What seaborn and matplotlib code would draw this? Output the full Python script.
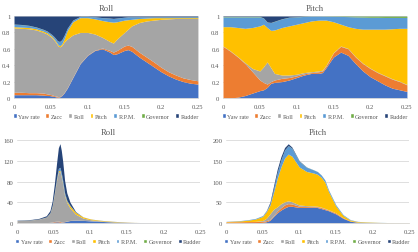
import numpy as np
import seaborn as sns
import matplotlib.pyplot as plt
from matplotlib.patches import Patch
from matplotlib.ticker import FuncFormatter

series = ["Yaw rate", "Zacc", "Roll", "Pitch", "R.P.M.", "Governor", "Rudder"]
colors = ["#4472C4", "#ED7D31", "#A5A5A5", "#FFC000", "#5B9BD5", "#70AD47", "#264478"]

# Roll case: frequency, total spectrum and share (%) of each contribution
roll_freq = [0, 0.01, 0.02, 0.03, 0.04, 0.045, 0.048, 0.051, 0.054, 0.0565, 0.0587, 0.0605,
             0.0625, 0.065, 0.068, 0.0724, 0.08, 0.09, 0.1, 0.11, 0.12, 0.13, 0.135, 0.14,
             0.15, 0.155, 0.16, 0.17, 0.18, 0.19, 0.2, 0.21, 0.22, 0.23, 0.24, 0.25]
roll_total = [5.5, 6, 7, 9, 14, 24, 42, 75, 115, 145, 153, 140, 118, 82, 58, 40, 22, 12, 8, 6,
              4.5, 3.5, 3, 2.6, 1.8, 1.5, 1.2, 0.9, 0.7, 0.55, 0.45, 0.4, 0.35, 0.3, 0.28, 0.25]
roll_yaw = [4, 4, 4, 4, 3.5, 3, 3, 2.5, 2, 1.5, 1, 1, 1.5, 3, 6, 12, 25, 42, 52, 58, 60, 56, 53,
            54, 58, 59, 57, 50, 44, 38, 32, 27, 23, 20, 18, 17]
roll_zacc = [3, 3, 2.5, 2.5, 2.5, 2, 1.5, 1.5, 1, 1, 1, 0.5, 0.5, 0.5, 0.5, 0.5, 0.5, 0.5, 0.5,
             0.5, 1, 2, 3, 4, 5.5, 5.5, 6, 6, 6, 6, 5.5, 5, 5, 4.5, 4.5, 4]
roll_roll = [78.5, 78, 78, 76.5, 74, 73, 71.5, 70, 68, 65.5, 63, 61.5, 60.5, 60.5, 61.5, 59.5,
             51.5, 37.5, 27.5, 19.5, 13, 11, 11, 14, 16.5, 19.5, 25, 36, 44, 51, 58.5, 64.5, 69,
             72.5, 74.5, 76]
roll_pitch = [1.5, 1.5, 1.5, 1.5, 1.5, 1.5, 1.5, 1.5, 1.5, 1.5, 1.5, 1.5, 1.5, 2, 4, 10, 16, 18,
              18, 18.5, 20.5, 24, 25.5, 21, 15, 11.5, 8, 5, 3.5, 3, 2, 1.5, 1, 1, 1, 1]
roll_rpm = [3, 3, 2.5, 2, 2, 2, 2, 2, 2.5, 3, 3.5, 4.5, 5, 5, 4, 3, 2, 1.5, 1.5, 2.5, 3.5, 4.5,
            4.5, 4.5, 3.5, 3.5, 3, 2, 1.5, 1, 1, 1, 1, 1, 1, 1]
roll_gov = [0.2, 0.2, 0.2, 0.2, 0.2, 0.2, 0.2, 0.2, 0.2, 0.2, 0.2, 0.2, 0.2, 0.2, 0.2, 0.2, 0.2,
            0.1, 0.1, 0.1, 0.1, 0.1, 0.1, 0.1, 0.1, 0.1, 0.1, 0.1, 0.1, 0.1, 0.1, 0.1, 0.1, 0.1,
            0.1, 0.1]
roll_rudder = [9.8, 10.3, 11.3, 13.3, 16.3, 18.3, 20.3, 22.3, 24.8, 27.3, 29.8, 30.8, 30.8, 28.8,
               23.8, 14.8, 4.8, 0.4, 0.4, 0.9, 1.9, 2.4, 2.9, 2.4, 1.4, 0.9, 0.9, 0.9, 0.9, 0.9,
               0.9, 0.9, 0.9, 0.9, 0.9, 0.9]

# Pitch case
pitch_freq = [0, 0.01, 0.02, 0.03, 0.04, 0.05, 0.055, 0.06, 0.065, 0.07, 0.075, 0.08, 0.085,
              0.09, 0.1, 0.11, 0.12, 0.125, 0.13, 0.135, 0.14, 0.15, 0.16, 0.17, 0.18, 0.19,
              0.2, 0.21, 0.22, 0.23, 0.24, 0.25]
pitch_total = [4, 5, 6, 8, 11, 18, 30, 50, 90, 130, 160, 182, 191, 183, 150, 135, 128, 124, 116,
               104, 80, 44, 20, 8, 4, 2.8, 2.2, 1.6, 1.2, 0.9, 0.7, 0.5]
pitch_yaw = [0, 0, 1, 3, 6, 9, 10, 13, 18, 19, 19.5, 20, 21, 22, 25, 28, 30, 30, 30, 31, 37, 50,
             56, 52, 42, 33, 26, 21, 16, 12, 10, 8]
pitch_zacc = [63, 57, 49, 39, 26, 13, 9, 4, 2, 3, 3.5, 4, 3.5, 3, 2, 1.5, 1, 1.5, 2, 2, 2, 5, 7,
              8, 8, 9, 10, 10, 11, 11, 10, 8]
pitch_roll = [0.5, 0.5, 0.5, 1, 4, 11, 19, 27, 17, 8, 6, 4, 3.5, 3, 2, 1.5, 1, 1, 1, 1, 1, 0.5,
              0.5, 0.5, 0.5, 0.5, 0.5, 0.5, 0.5, 0.5, 0.5, 0.5]
pitch_pitch = [23.5, 29.5, 35.5, 42, 50, 55, 52, 42, 45.5, 53, 55.5, 58, 59, 60, 61, 61, 62, 62,
               62, 61, 55, 37.5, 26.5, 26.5, 34.5, 41.5, 47.5, 52.5, 56.5, 61, 64.5, 68.5]
pitch_rpm = [12, 12, 13, 14, 13, 11, 7.5, 6.5, 9.5, 10.5, 10.5, 10.5, 10.5, 10.5, 9, 7.5, 5.8,
             5.3, 4.8, 4.8, 4.7, 6.6, 9.5, 12.3, 14, 14.8, 14.5, 14.5, 14.3, 13.8, 13.3, 13.3]
pitch_gov = [0.5, 0.5, 0.5, 0.5, 0.5, 0.5, 0.2, 0.2, 0.2, 0.2, 0.2, 0.2, 0.2, 0.2, 0.2, 0.2, 0.1,
             0.1, 0.1, 0.1, 0.2, 0.3, 0.4, 0.6, 0.9, 1.1, 1.4, 1.4, 1.6, 1.6, 1.6, 1.6]
pitch_rudder = [0.5, 0.5, 0.5, 0.5, 0.5, 0.5, 2.3, 7.3, 7.8, 6.3, 4.8, 3.3, 2.3, 1.3, 0.8, 0.3,
                0.1, 0.1, 0.1, 0.1, 0.1, 0.1, 0.1, 0.1, 0.1, 0.1, 0.1, 0.1, 0.1, 0.1, 0.1, 0.1]

roll_shares = [roll_yaw, roll_zacc, roll_roll, roll_pitch, roll_rpm, roll_gov, roll_rudder]
pitch_shares = [pitch_yaw, pitch_zacc, pitch_roll, pitch_pitch, pitch_rpm, pitch_gov, pitch_rudder]

sns.set_theme(style="white")
plt.rcParams["font.family"] = ["Liberation Serif", "DejaVu Serif"]
txt = "#595959"
grid_c = "#D9D9D9"

fig = plt.figure(figsize=(4.18, 2.53), dpi=100)


def draw(rect, title, freq, shares, total, ylim, yticks, title_pad):
    ax = fig.add_axes(rect)
    s = np.array(shares, dtype=float)
    s = s / s.sum(axis=0)
    if total is not None:
        s = s * np.array(total)
    ax.stackplot(freq, s, colors=colors, linewidth=0, zorder=2)
    ax.set_xlim(0, 0.25)
    ax.set_ylim(*ylim)
    ax.set_xticks([0, 0.05, 0.1, 0.15, 0.2, 0.25])
    ax.set_yticks(yticks)
    fmt = FuncFormatter(lambda v, p: "%g" % v)
    ax.xaxis.set_major_formatter(fmt)
    ax.yaxis.set_major_formatter(fmt)
    ax.yaxis.grid(True, color=grid_c, linewidth=0.6, zorder=0)
    ax.set_axisbelow(True)
    sns.despine(ax=ax, left=True, top=True, right=True)
    ax.spines["bottom"].set_color(grid_c)
    ax.spines["bottom"].set_linewidth(0.6)
    ax.tick_params(axis="both", labelsize=4.8, colors=txt, length=0, pad=2.5)
    ax.tick_params(axis="x", length=2, width=0.5, color=grid_c, direction="out")
    ax.set_title(title, fontsize=6.2, color=txt, pad=title_pad)
    handles = [Patch(facecolor=c, label=n) for c, n in zip(colors, series)]
    ax.legend(handles=handles, loc="center", bbox_to_anchor=(0.5, -0.22), ncol=7,
              frameon=False, fontsize=4.4, handlelength=0.65, handleheight=0.65,
              handletextpad=0.25, columnspacing=0.85, labelcolor=txt, borderpad=0)
    return ax


draw([0.0335, 0.6087, 0.44, 0.324], "Roll", roll_freq, roll_shares, None,
     (0, 1), [0, 0.2, 0.4, 0.6, 0.8, 1], 4.5)
draw([0.5335, 0.6087, 0.44, 0.324], "Pitch", pitch_freq, pitch_shares, None,
     (0, 1), [0, 0.2, 0.4, 0.6, 0.8, 1], 4.5)
draw([0.0407, 0.1146, 0.4378, 0.328], "Roll", roll_freq, roll_shares, roll_total,
     (0, 160), [0, 40, 80, 120, 160], 4)
draw([0.5407, 0.1146, 0.4378, 0.328], "Pitch", pitch_freq, pitch_shares, pitch_total,
     (0, 200), [0, 50, 100, 150, 200], 4)

fig.savefig("out.png", dpi=100)
